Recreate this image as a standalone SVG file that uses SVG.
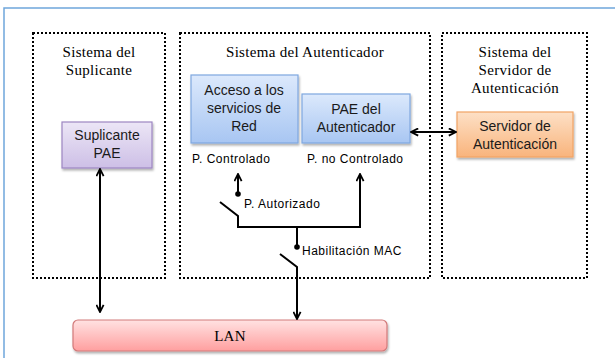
<svg xmlns="http://www.w3.org/2000/svg" width="615" height="358" viewBox="0 0 615 358">
<defs>
<linearGradient id="gBlue" x1="0" y1="0" x2="0" y2="1"><stop offset="0" stop-color="#dce9fc"/><stop offset="1" stop-color="#a8c6f2"/></linearGradient>
<linearGradient id="gPurple" x1="0" y1="0" x2="0" y2="1"><stop offset="0" stop-color="#ece6f6"/><stop offset="1" stop-color="#cdbfe6"/></linearGradient>
<linearGradient id="gOrange" x1="0" y1="0" x2="0" y2="1"><stop offset="0" stop-color="#fde0c6"/><stop offset="1" stop-color="#f9b47c"/></linearGradient>
<linearGradient id="gRed" x1="0" y1="0" x2="0" y2="1"><stop offset="0" stop-color="#ffe2e2"/><stop offset="1" stop-color="#ff9f9f"/></linearGradient>
<filter id="sh" x="-10%" y="-10%" width="130%" height="140%"><feDropShadow dx="1" dy="2" stdDeviation="1.2" flood-color="#000" flood-opacity="0.3"/></filter>
<marker id="ah" viewBox="0 0 10 10" refX="9" refY="5" markerWidth="9" markerHeight="9" markerUnits="userSpaceOnUse" orient="auto-start-reverse"><path d="M1,1 L9,5 L1,9" fill="none" stroke="#000" stroke-width="2"/></marker>
<style>
.frame{fill:none;stroke:#6fa6dc;stroke-width:1.5}
.dot{fill:none;stroke:#000;stroke-width:2;stroke-dasharray:2 2}
.title{font-family:"Liberation Serif","Times New Roman",serif;font-size:15px;fill:#000;text-anchor:middle;letter-spacing:0.3px}
.box{font-family:"Liberation Sans",Arial,sans-serif;font-size:14px;fill:#1a1a1a;text-anchor:middle}
.lbl{font-family:"Liberation Sans",Arial,sans-serif;font-size:12px;fill:#000;letter-spacing:0.5px}
.wire{fill:none;stroke:#000;stroke-width:2}
</style>
</defs>
<rect width="615" height="358" fill="#fff"/>
<path class="frame" d="M4,358 V8 H615"/>

<g id="sistema-suplicante">
<rect class="dot" x="33" y="33" width="132" height="245"/>
<text class="title" x="99" y="57">Sistema del</text>
<text class="title" x="99" y="75">Suplicante</text>
</g>
<g id="sistema-autenticador">
<rect class="dot" x="180" y="33" width="250" height="245"/>
<text class="title" x="305" y="57">Sistema del Autenticador</text>
</g>
<g id="sistema-servidor">
<rect class="dot" x="442" y="33" width="145" height="245"/>
<text class="title" x="515" y="57">Sistema del</text>
<text class="title" x="515" y="75">Servidor de</text>
<text class="title" x="515" y="93">Autenticación</text>
</g>

<g id="suplicante-pae">
<rect x="62" y="122" width="90" height="46" fill="url(#gPurple)" stroke="#9d86c2" stroke-width="1.2" filter="url(#sh)"/>
<text class="box" x="107" y="140">Suplicante</text>
<text class="box" x="107" y="158">PAE</text>
</g>
<g id="acceso-servicios">
<rect x="191" y="75" width="107" height="68" fill="url(#gBlue)" stroke="#7fa7df" stroke-width="1.2" filter="url(#sh)"/>
<text class="box" x="244" y="95">Acceso a los</text>
<text class="box" x="244" y="113">servicios de</text>
<text class="box" x="244" y="131">Red</text>
</g>
<g id="pae-autenticador">
<rect x="302" y="94" width="108" height="49" fill="url(#gBlue)" stroke="#7fa7df" stroke-width="1.2" filter="url(#sh)"/>
<text class="box" x="356" y="114">PAE del</text>
<text class="box" x="356" y="132">Autenticador</text>
</g>
<g id="servidor-autenticacion">
<rect x="457" y="112" width="116" height="45" fill="url(#gOrange)" stroke="#f2a465" stroke-width="1.2" filter="url(#sh)"/>
<text class="box" x="515" y="131">Servidor de</text>
<text class="box" x="515" y="149">Autenticación</text>
</g>
<g id="lan">
<rect x="73" y="320" width="314" height="31" rx="5" fill="url(#gRed)" stroke="#d27a7a" stroke-width="1.2" filter="url(#sh)"/>
<text class="title" x="230" y="341" font-size="14px">LAN</text>
</g>

<g id="labels">
<text class="lbl" x="192" y="163">P. Controlado</text>
<text class="lbl" x="307" y="163">P. no Controlado</text>
<text class="lbl" x="244" y="208">P. Autorizado</text>
<text class="lbl" x="302" y="255">Habilitación MAC</text>
</g>

<g id="connectors">
<line class="wire" x1="100" y1="169" x2="100" y2="312" marker-start="url(#ah)" marker-end="url(#ah)"/>
<line class="wire" x1="411" y1="132" x2="456" y2="132" marker-start="url(#ah)" marker-end="url(#ah)"/>
<line class="wire" x1="238" y1="194" x2="238" y2="174" marker-end="url(#ah)"/>
<circle cx="238" cy="194" r="2.8" fill="#000"/>
<path class="wire" d="M220,202 L238,216 V227 H360 V174" marker-end="url(#ah)"/>
<line class="wire" x1="297" y1="227" x2="297" y2="247"/>
<circle cx="297" cy="247" r="2.8" fill="#000"/>
<path class="wire" d="M280,254 L297,267 V319" marker-end="url(#ah)"/>
</g>
</svg>
